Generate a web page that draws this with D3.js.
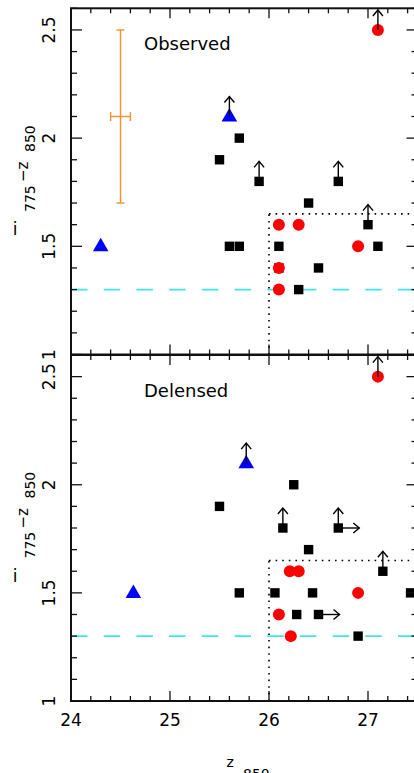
<!DOCTYPE html>
<html>
<head>
<meta charset="utf-8">
<script src="https://cdn.jsdelivr.net/npm/d3@7"></script>
<style>
  html, body { margin: 0; padding: 0; background: #fff; }
  svg { display: block; }
  text { font-family: "DejaVu Sans", sans-serif; fill: #000; }
</style>
</head>
<body>
<svg id="chart" width="414" height="773"></svg>
<script>
// ---- data: [z850, i775-z850, limit flags] ----
// "u" = lower limit in colour (arrow up), "r" = lower limit in magnitude (arrow right)
const obsSquares = [
  [25.5, 1.9, ""], [25.7, 2.0, ""], [25.9, 1.8, "u"], [26.7, 1.8, "u"],
  [26.4, 1.7, ""], [27.0, 1.6, "u"], [25.6, 1.5, ""], [25.7, 1.5, ""],
  [26.1, 1.5, ""], [27.1, 1.5, ""], [26.1, 1.4, ""], [26.5, 1.4, ""],
  [26.3, 1.3, ""]
];
const obsCircles = [
  [27.1, 2.5, "u"], [26.1, 1.6, ""], [26.3, 1.6, ""], [26.9, 1.5, ""],
  [26.1, 1.4, ""], [26.1, 1.3, ""]
];
const obsTriangles = [[25.6, 2.1, "u"], [24.3, 1.5, ""]];

const delSquares = [
  [25.5, 1.9, ""], [26.25, 2.0, ""], [26.14, 1.8, "u"], [26.7, 1.8, "ur"],
  [26.4, 1.7, ""], [27.15, 1.6, "u"], [25.7, 1.5, ""], [26.06, 1.5, ""],
  [26.44, 1.5, ""], [27.43, 1.5, ""], [26.28, 1.4, ""], [26.5, 1.4, "r"],
  [26.9, 1.3, ""]
];
const delCircles = [
  [27.1, 2.5, "u"], [26.21, 1.6, ""], [26.3, 1.6, ""], [26.9, 1.5, ""],
  [26.1, 1.4, ""], [26.22, 1.3, ""]
];
const delTriangles = [[25.77, 2.1, "u"], [24.63, 1.5, ""]];

// typical error bar: centre, x half-width, y range
const errCentre = [24.5, 2.1];
const errX = [24.4, 24.6];
const errY = [1.7, 2.5];

// selection guides
const colourCut = 1.3;
const boxZ = 26.0;
const boxColour = 1.65;

// axes
const xDomain = [24, 27.5];
const yDomain = [1, 2.6];
const xTickValues = [24, 25, 26, 27];
const xTickLabels = ["24", "25", "26", "27"];
const yTickValues = [1, 1.5, 2, 2.5];
const yTickLabels = ["1", "1.5", "2", "2.5"];
const panelNames = ["Observed", "Delensed"];

// ---- layout ----
const svg = d3.select("#chart");
const x = d3.scaleLinear().domain(xDomain).range([71, 417.5]);
const panels = [
  { name: panelNames[0], y: d3.scaleLinear().domain(yDomain).range([354.5, 8.3]),
    sq: obsSquares, ci: obsCircles, tr: obsTriangles, err: true, dy: 0 },
  { name: panelNames[1], y: d3.scaleLinear().domain(yDomain).range([701, 355]),
    sq: delSquares, ci: delCircles, tr: delTriangles, err: false, dy: 346.5 }
];

const xMinor = d3.range(xDomain[0], xDomain[1] + 1e-9, 0.2).map(v => +v.toFixed(2));
const yMinor = d3.range(yDomain[0], yDomain[1] + 1e-9, 0.1).map(v => +v.toFixed(2));
const isMajorX = v => Math.abs(v - Math.round(v)) < 1e-6;
const isMajorY = v => Math.abs(v * 2 - Math.round(v * 2)) < 1e-6;

function arrowUp(g, px, py) {
  const tip = py - 20;
  g.append("line").attr("x1", px).attr("x2", px).attr("y1", py).attr("y2", tip);
  g.append("path").attr("d", `M${px - 5},${tip + 6}L${px},${tip}L${px + 5},${tip + 6}`);
}
function arrowRight(g, px, py) {
  const tip = px + 21;
  g.append("line").attr("x1", px).attr("x2", tip).attr("y1", py).attr("y2", py);
  g.append("path").attr("d", `M${tip - 6},${py - 5}L${tip},${py}L${tip - 6},${py + 5}`);
}

panels.forEach(p => {
  const y = p.y;
  const [yb, yt] = y.range();
  const [xl, xr] = x.range();
  const g = svg.append("g");

  // cyan colour cut
  g.append("line")
    .attr("x1", xl).attr("x2", xr)
    .attr("y1", y(colourCut)).attr("y2", y(colourCut))
    .attr("stroke", "#3fe6e6").attr("stroke-width", 1.6)
    .attr("stroke-dasharray", "16.5,16.2");

  // dotted selection box
  const dot = g.append("g").attr("stroke", "#000").attr("stroke-width", 1.6)
    .attr("stroke-dasharray", "1.6,5").attr("fill", "none");
  dot.append("line").attr("x1", x(boxZ)).attr("x2", x(boxZ))
    .attr("y1", yb).attr("y2", y(boxColour));
  dot.append("line").attr("x1", x(boxZ)).attr("x2", xr)
    .attr("y1", y(boxColour)).attr("y2", y(boxColour));

  // typical error bar
  if (p.err) {
    const e = g.append("g").attr("stroke", "#f7902a").attr("stroke-width", 1.4).attr("fill", "none");
    const cx = x(errCentre[0]), cy = y(errCentre[1]);
    e.append("line").attr("x1", cx).attr("x2", cx).attr("y1", y(errY[0])).attr("y2", y(errY[1]));
    errY.forEach(v => e.append("line").attr("x1", cx - 4).attr("x2", cx + 4).attr("y1", y(v)).attr("y2", y(v)));
    e.append("line").attr("x1", x(errX[0])).attr("x2", x(errX[1])).attr("y1", cy).attr("y2", cy);
    errX.forEach(v => e.append("line").attr("x1", x(v)).attr("x2", x(v)).attr("y1", cy - 4.5).attr("y2", cy + 4.5));
  }

  // markers
  g.append("g").selectAll("rect").data(p.sq).join("rect")
    .attr("x", d => x(d[0]) - 4.7).attr("y", d => y(d[1]) - 4.7)
    .attr("width", 9.4).attr("height", 9.4).attr("fill", "#000");
  g.append("g").selectAll("circle").data(p.ci).join("circle")
    .attr("cx", d => x(d[0])).attr("cy", d => y(d[1])).attr("r", 6)
    .attr("fill", "#ff0000");
  g.append("g").selectAll("path").data(p.tr).join("path")
    .attr("d", d => {
      const px = x(d[0]), py = y(d[1]);
      return `M${px},${py - 8.5}L${px + 7.8},${py + 5}L${px - 7.8},${py + 5}Z`;
    })
    .attr("fill", "#0000ff");

  // limit arrows
  const ar = g.append("g").attr("stroke", "#000").attr("stroke-width", 1.4).attr("fill", "none");
  [...p.sq, ...p.ci, ...p.tr].forEach(d => {
    if (d[2].includes("u")) arrowUp(ar, x(d[0]), y(d[1]));
    if (d[2].includes("r")) arrowRight(ar, x(d[0]), y(d[1]));
  });

  // ticks (inward on all four sides)
  const tk = g.append("g").attr("stroke", "#111").attr("stroke-width", 1.3);
  xMinor.forEach(v => {
    const L = isMajorX(v) ? 10 : 5;
    tk.append("line").attr("x1", x(v)).attr("x2", x(v)).attr("y1", yb).attr("y2", yb - L);
    tk.append("line").attr("x1", x(v)).attr("x2", x(v)).attr("y1", yt).attr("y2", yt + L);
  });
  yMinor.forEach(v => {
    const L = isMajorY(v) ? 11 : 6;
    tk.append("line").attr("x1", xl).attr("x2", xl + L).attr("y1", y(v)).attr("y2", y(v));
    tk.append("line").attr("x1", xr).attr("x2", xr - L).attr("y1", y(v)).attr("y2", y(v));
  });

  // frame
  g.append("rect").attr("x", xl).attr("y", yt).attr("width", xr - xl).attr("height", yb - yt)
    .attr("fill", "none").attr("stroke", "#111").attr("stroke-width", 2);

  // y tick labels (rotated)
  yTickValues.forEach((v, i) => {
    g.append("text")
      .attr("transform", `translate(55,${y(v)}) rotate(-90)`)
      .attr("text-anchor", "middle").attr("font-size", 17)
      .text(yTickLabels[i]);
  });

  // panel label
  g.append("text").attr("x", 144).attr("y", y(2.6) + 42)
    .attr("font-size", 18).text(p.name);

  // y axis title: i_775 - z_850
  const t = g.append("g").attr("transform", `translate(0,${p.dy})`);
  t.append("text").attr("x", 15).attr("y", 235).attr("text-anchor", "middle")
    .attr("font-size", 17).text("i");
  t.append("text").attr("transform", "translate(35,212) rotate(-90)")
    .attr("font-size", 14).text("775");
  t.append("text").attr("transform", "translate(28,182) rotate(-90)")
    .attr("font-size", 15).text("−z");
  t.append("text").attr("transform", "translate(35,152) rotate(-90)")
    .attr("font-size", 14).text("850");
});

// x tick labels (bottom panel)
xTickValues.forEach((v, i) => {
  svg.append("text").attr("x", x(v)).attr("y", 726)
    .attr("text-anchor", "middle").attr("font-size", 17).text(xTickLabels[i]);
});

// x axis title: z_850
svg.append("text").attr("x", 226.5).attr("y", 767).attr("font-size", 14).text("z");
svg.append("text").attr("x", 243).attr("y", 778.5).attr("font-size", 14).text("850");
</script>
</body>
</html>
